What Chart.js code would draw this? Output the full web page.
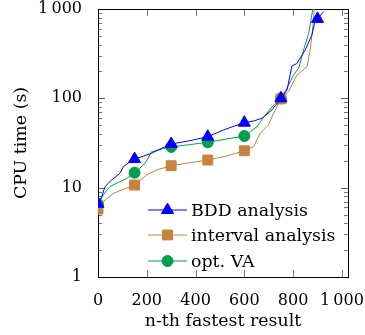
<!DOCTYPE html>
<html>
<head>
<meta charset="utf-8">
<script src="https://cdn.jsdelivr.net/npm/chart.js@4.4.1/dist/chart.umd.min.js"></script>
<style>
  body { margin: 0; background: #fff; }
</style>
</head>
<body>
<canvas id="myChart" width="365" height="335"></canvas>
<script>
// series data (x = n-th fastest result, y = CPU time in s)
const bddX = [0, 15, 29, 56, 90, 104, 131, 150, 185, 220, 260, 300, 375, 450, 515, 560, 600, 640, 672, 713, 750, 775, 795, 815, 850, 877, 891, 900, 925];
const bddY = [6.6, 7.9, 10.3, 12.2, 14.5, 17.2, 19.5, 20.9, 22.5, 24.3, 27.5, 30.8, 33.5, 37.2, 44.3, 49, 53.4, 56, 59.8, 74, 100, 124, 230, 245, 348, 512, 755, 775, 935];
const intX = [0, 29, 63, 104, 150, 200, 241, 300, 375, 450, 525, 600, 638, 665, 699, 720, 750, 781, 816, 857, 870, 881, 888];
const intY = [5.77, 7.3, 8.6, 9.6, 10.7, 13.9, 15.8, 17.6, 19, 20.4, 22.5, 25.9, 28.8, 40.6, 50.4, 68.1, 98.5, 119, 183, 226, 348, 635, 1100];
const vaX = [0, 22, 49, 90, 118, 150, 193, 220, 260, 300, 375, 450, 525, 600, 624, 652, 686, 720, 750, 775, 802, 823, 843, 864, 882];
const vaY = [6.57, 8.3, 10.3, 11.7, 12.7, 14.7, 18.7, 25.3, 27, 28.6, 30.3, 32.2, 35, 37.9, 42.4, 48.3, 65, 84, 100, 130, 183, 218, 348, 535, 1050];
// every 150th result gets a marker
const markX = [0, 150, 300, 450, 600, 750, 900];
const xTicks = [0, 200, 400, 600, 800, 1000];
const yTicks = [1, 10, 100, 1000];
const seriesNames = ["BDD analysis", "interval analysis", "opt. VA"];

const FONT = "'DejaVu Serif', serif";
const colBlue = "#0000ff";
const colOrange = "#c8823f";
const colGreen = "#00a050";

function pts(xs, ys) {
  return xs.map((v, i) => ({ x: v, y: ys[i] }));
}
function fmt(v) {
  return v >= 1000 ? String(v).slice(0, -3) + "\u2009" + String(v).slice(-3) : String(v);
}
function markRadius(r) {
  return (c) => (c.raw && markX.includes(c.raw.x) ? r : 0);
}

const data = {
  datasets: [
    {
      label: seriesNames[0],
      data: pts(bddX, bddY),
      borderColor: colBlue,
      backgroundColor: colBlue,
      pointStyle: "triangle",
      pointRadius: markRadius(7),
    },
    {
      label: seriesNames[1],
      data: pts(intX, intY),
      borderColor: colOrange,
      backgroundColor: colOrange,
      pointStyle: "rect",
      pointRadius: markRadius(7),
    },
    {
      label: seriesNames[2],
      data: pts(vaX, vaY),
      borderColor: colGreen,
      backgroundColor: colGreen,
      pointStyle: "circle",
      pointRadius: markRadius(5.5),
    },
  ],
};
data.datasets.forEach((d) => {
  d.borderWidth = 1;
  d.pointBorderWidth = 1;
  d.pointBorderColor = d.borderColor;
  d.pointBackgroundColor = d.backgroundColor;
  d.pointHoverRadius = 0;
  d.tension = 0;
});

// box + inward tick marks, like pgfplots
const axisBox = {
  id: "axisBox",
  beforeDatasetsDraw(chart) {
    const {
      ctx,
      chartArea: { left, right, top, bottom },
      scales: { x, y },
    } = chart;
    ctx.save();
    ctx.strokeStyle = "#555";
    ctx.lineWidth = 0.8;
    ctx.beginPath();
    xTicks.forEach((v) => {
      const px = Math.round(x.getPixelForValue(v)) + 0.5;
      ctx.moveTo(px, bottom);
      ctx.lineTo(px, bottom - 7);
      ctx.moveTo(px, top);
      ctx.lineTo(px, top + 7);
    });
    [1, 10, 100].forEach((d) => {
      for (let m = 1; m <= 10; m++) {
        const py = Math.round(y.getPixelForValue(d * m)) + 0.5;
        const len = m === 1 || m === 10 ? 7 : 4;
        ctx.moveTo(left, py);
        ctx.lineTo(left + len, py);
        ctx.moveTo(right, py);
        ctx.lineTo(right - len, py);
      }
    });
    ctx.stroke();
    ctx.strokeStyle = "#000";
    ctx.lineWidth = 1;
    ctx.strokeRect(Math.round(left) + 0.5, Math.round(top) + 0.5, Math.round(right - left), Math.round(bottom - top));
    ctx.restore();
  },
};

// legend inside the plot, lower right, no frame
const innerLegend = {
  id: "innerLegend",
  afterDatasetsDraw(chart) {
    const { ctx, chartArea: { right, bottom } } = chart;
    const rows = [bottom - 67, bottom - 42, bottom - 16];
    ctx.save();
    chart.data.datasets.forEach((ds, i) => {
      const yy = rows[i];
      const x0 = right - 200;
      const x1 = right - 161;
      ctx.strokeStyle = ds.borderColor;
      ctx.lineWidth = 1;
      ctx.beginPath();
      ctx.moveTo(x0, yy);
      ctx.lineTo(x1, yy);
      ctx.stroke();
      ctx.fillStyle = ds.backgroundColor;
      Chart.helpers.drawPoint(
        ctx,
        { pointStyle: ds.pointStyle, radius: ds.pointStyle === "circle" ? 5.5 : 7, rotation: 0, borderWidth: 1 },
        (x0 + x1) / 2,
        yy
      );
      ctx.fillStyle = "#000";
      ctx.font = "17.4px " + FONT;
      ctx.textAlign = "left";
      ctx.textBaseline = "middle";
      ctx.fillText(ds.label, right - 157, yy + 1);
    });
    ctx.restore();
  },
};

const config = {
  type: "line",
  data,
  options: {
    responsive: false,
    animation: false,
    events: [],
    layout: {
      padding: { top: 9, right: 17, left: 0, bottom: 0 },
    },
    plugins: {
      legend: { display: false },
      tooltip: { enabled: false },
    },
    scales: {
      x: {
        type: "linear",
        min: 0,
        max: 1025,
        grid: { display: false },
        border: { display: false },
        afterBuildTicks: (s) => {
          s.ticks = xTicks.map((v) => ({ value: v }));
        },
        afterFit: (s) => {
          s.height = 58;
          s.paddingLeft = 0;
          s.paddingRight = 0;
        },
        ticks: {
          color: "#000",
          padding: 6,
          maxRotation: 0,
          autoSkip: false,
          font: { family: FONT, size: 16 },
          callback: (v) => fmt(v),
        },
        title: {
          display: true,
          text: "n-th fastest result",
          color: "#000",
          padding: { top: 4, bottom: 3 },
          font: { family: FONT, size: 17.4 },
        },
      },
      y: {
        type: "logarithmic",
        min: 1,
        max: 1000,
        grid: { display: false },
        border: { display: false },
        afterBuildTicks: (s) => {
          s.ticks = yTicks.map((v) => ({ value: v }));
        },
        afterFit: (s) => {
          s.width = 98;
          s.paddingTop = 0;
          s.paddingBottom = 0;
        },
        ticks: {
          color: "#000",
          padding: 8,
          autoSkip: false,
          font: { family: FONT, size: 16 },
          callback: (v) => fmt(v),
        },
        title: {
          display: true,
          text: "CPU time (s)",
          color: "#000",
          padding: { top: 11, bottom: 4 },
          font: { family: FONT, size: 17.4 },
        },
      },
    },
  },
  plugins: [axisBox, innerLegend],
};

const chartInstance = new Chart(document.getElementById("myChart"), config);
</script>
</body>
</html>
